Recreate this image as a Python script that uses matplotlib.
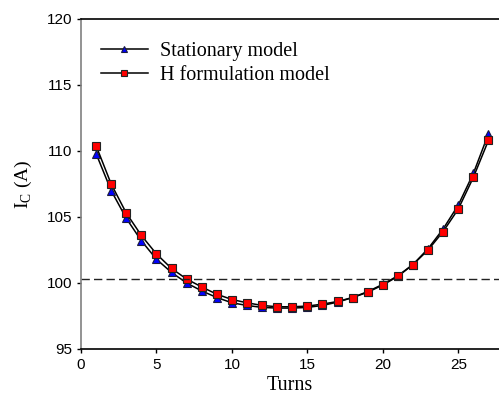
import matplotlib
matplotlib.use("Agg")
import matplotlib.pyplot as plt
import numpy as np

# data
turns = list(range(1, 28))
stationary = [109.8, 107.0, 104.9, 103.2, 101.8, 100.8, 100.0, 99.4, 98.9, 98.5,
              98.3, 98.15, 98.1, 98.1, 98.15, 98.3, 98.55, 98.9, 99.35, 99.9,
              100.55, 101.4, 102.6, 104.1, 105.9, 108.3, 111.3]
h_form = [110.4, 107.5, 105.3, 103.6, 102.2, 101.1, 100.3, 99.7, 99.15, 98.75,
          98.5, 98.3, 98.2, 98.2, 98.25, 98.4, 98.6, 98.9, 99.3, 99.85,
          100.5, 101.4, 102.5, 103.9, 105.6, 108.0, 110.8]
ref_level = 100.3

serif = "Liberation Serif"
sans = "Liberation Sans"

fig = plt.figure(figsize=(4.99, 4.0), dpi=100)
ax = fig.add_axes([81 / 499, 1 - 349 / 400, 418 / 499, 330 / 400])

ax.plot(turns, stationary, color="black", lw=1.1, marker="^", ms=6,
        mfc="blue", mec="#1a1a40", mew=0.8, label="Stationary model")
ax.plot(turns, h_form, color="black", lw=1.1, marker="s", ms=6,
        mfc="red", mec="#222222", mew=0.8, label="H formulation model")
ax.axhline(ref_level, color="#222222", lw=1, ls=(0, (6, 3)))

ax.set_xlim(0, 27.7)
ax.set_ylim(95, 120)
ax.set_xticks([0, 5, 10, 15, 20, 25])
ax.set_yticks([95, 100, 105, 110, 115, 120])
ax.tick_params(direction="out", length=3, width=1, labelsize=11)
for lab in ax.get_xticklabels() + ax.get_yticklabels():
    lab.set_fontfamily(sans)

ax.spines["right"].set_visible(False)
ax.spines["left"].set_color("gray")
ax.spines["left"].set_linewidth(1.2)
ax.spines["top"].set_linewidth(1.2)
ax.spines["bottom"].set_linewidth(1.2)

ax.set_xlabel("Turns", fontfamily=serif, fontsize=14.5, labelpad=3)
ax.set_ylabel(r"I$_\mathregular{C}$ (A)", fontfamily=serif, fontsize=14, labelpad=9)

leg = ax.legend(loc="upper left", bbox_to_anchor=(0.005, 0.985), frameon=False,
                prop={"family": serif, "size": 14.5}, handlelength=2.3,
                labelspacing=0.25, handletextpad=0.6, markerscale=0.8)

fig.savefig("out.png", dpi=100)
